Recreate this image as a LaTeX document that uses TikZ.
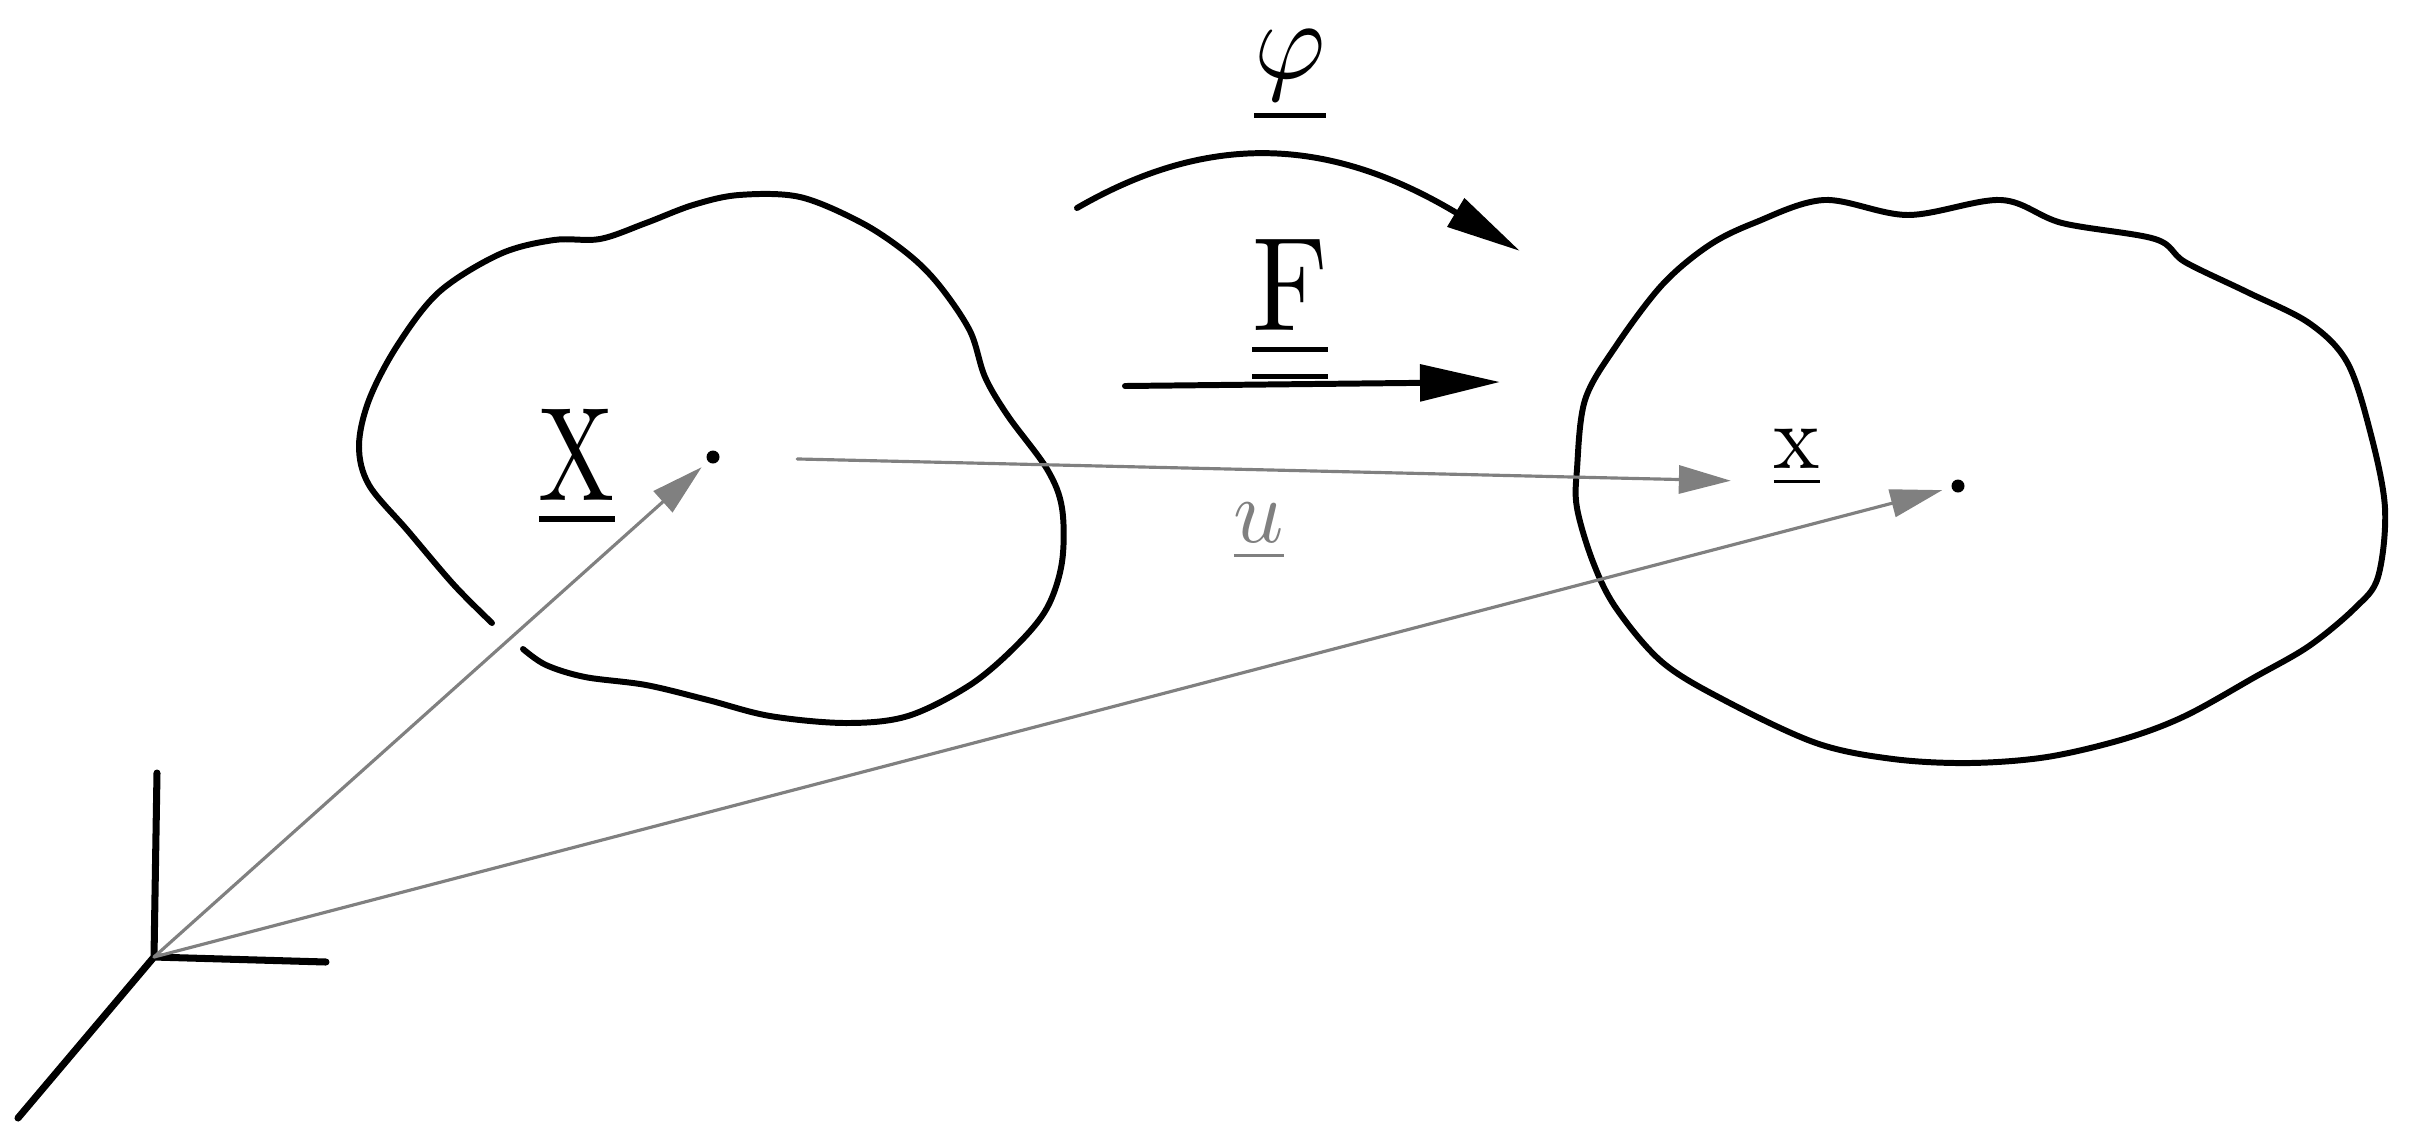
\documentclass[tikz,border=0pt]{standalone}
\usepackage{tikz}
\usetikzlibrary{arrows.meta,calc}
\usepackage{xcolor}
\usepackage{amsmath}
\usepackage{amssymb}
\definecolor{Ink}{HTML}{000000}
\definecolor{Pencil}{HTML}{808080}

\begin{document}
\begin{tikzpicture}[x=0.1mm,y=-0.1mm,
  outline/.style={Ink,line width=1.7pt,line cap=round,line join=round},
  vec/.style={Pencil,line width=0.9pt,line cap=round,-{Triangle[length=5.2mm,width=2.8mm]}},
  maparrow/.style={Ink,line width=1.7pt,line cap=round,-{Triangle[length=8mm,width=3.6mm]}},
  lbl/.style={inner sep=0pt,font=\fontsize{10}{12}\selectfont},
  pt/.style={circle,fill=Ink,inner sep=0pt,minimum size=1.3mm}]
\useasboundingbox (0,0) rectangle (2413,1144);
% frame
\coordinate (O) at (154,957);
\coordinate (e1) at (326,962);
\coordinate (e2) at (157,773);
\coordinate (e3) at (18,1118);
\draw[outline,line width=2pt] (e2) -- (O) -- (e1) (O) -- (e3);
% reference configuration (open outline)
\draw[outline] plot[smooth,tension=0.55] coordinates {(492,623) (454,585) (408,531) (369,485) (359,446) (369,400) (397,346) (439,292) (500,254) (554,240) (600,239) (646,223) (693,205) (739,195) (800,197) (862,223) (908,254) (939,285) (970,331) (985,377) (1008,416) (1047,469) (1062,508) (1062,562) (1047,608) (1016,646) (970,685) (908,716) (846,723) (770,716) (708,700) (646,685) (585,677) (546,665) (523,649)};
% current configuration
\draw[outline] plot[smooth cycle,tension=0.55] coordinates {(1577,469) (1585,400) (1616,346) (1662,285) (1708,246) (1754,223) (1824,200) (1908,215) (2001,200) (2062,223) (2155,239) (2185,262) (2247,292) (2309,323) (2347,362) (2370,431) (2385,508) (2378,577) (2355,608) (2309,646) (2255,677) (2185,716) (2124,739) (2047,757) (1970,763) (1893,759) (1816,743) (1724,700) (1662,662) (1616,608) (1593,562) (1577,508)};
% material and spatial points
\node[pt] (P) at (713,457) {};
\node[pt] (p) at (1958,486) {};
\draw[vec,shorten >=0.8mm] (O) -- (P);
\draw[vec,shorten >=0.9mm] (O) -- (p);
\draw[vec,shorten <=7.7mm,shorten >=22mm] (P) -- (p);
\node[lbl] (lX) at (577,468) {\scalebox{2.9}[3.8]{$\underline{\mathrm{X}}$}};
\node[lbl] (lx) at (1797,458) {\scalebox{2.5}[2.6]{$\underline{\mathrm{x}}$}};
\node[lbl,text=Pencil] (lu) at (1259,532) {\scalebox{2.5}[2.6]{$\underline{u}$}};
% mappings
\coordinate (phiS) at (1077,208);
\coordinate (phiE) at (1520,251);
\draw[maparrow,-{Triangle[length=7.5mm,width=3.2mm]}] (phiS) .. controls (1205,134) and (1325,134) .. (phiE);
\node[lbl] (lphi) at (1290,76) {\scalebox{3.1}[3.2]{$\underline{\varphi}$}};
\coordinate (FS) at (1125,386);
\coordinate (FE) at (1500,382);
\draw[maparrow] (FS) -- (FE);
\node[lbl] (lF) at (1290,312) {\scalebox{3.3}[3.8]{$\underline{\underline{\mathrm{F}}}$}};
\end{tikzpicture}
\end{document}
